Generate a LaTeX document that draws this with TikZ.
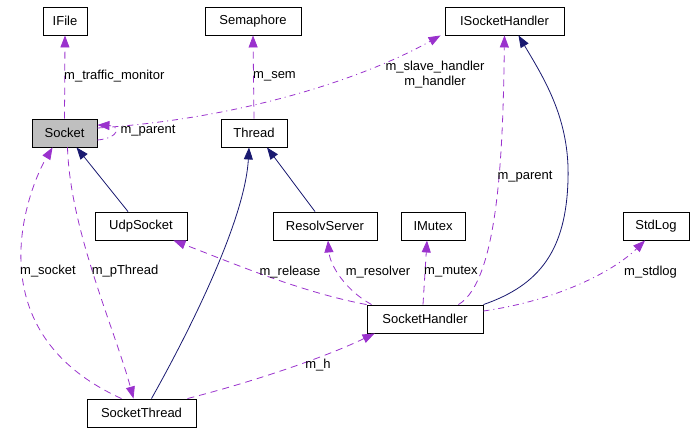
\documentclass[tikz,border=0pt]{standalone}
\usepackage{fontspec}
\setmainfont{Liberation Sans}
\usetikzlibrary{arrows.meta}
\definecolor{refpurple}{HTML}{9A32CD}
\definecolor{inhnavy}{HTML}{191970}
\definecolor{boxgray}{HTML}{BFBFBF}

\begin{document}
\begin{tikzpicture}[x=1pt,y=-1pt,
		cls/.style={draw, line width=0.9pt, minimum height=28pt, inner sep=0pt, font=\fontsize{13}{15}\selectfont},
		lbl/.style={inner sep=0pt, font=\fontsize{13}{15}\selectfont},
		uses/.style={refpurple, line width=0.8pt, dash pattern=on 7pt off 5pt, -{Triangle[length=12pt,width=9pt]}},
		usesdot/.style={uses, dash pattern=on 6pt off 4pt on 1pt off 4pt},
		inherits/.style={inhnavy, line width=0.8pt, -{Triangle[length=12pt,width=9pt]}}]
			\useasboundingbox (0,0) rectangle (695,432);
			
			\node[cls, minimum width=44pt] (IFile) at (65,21) {IFile};
			\node[cls, minimum width=96pt] (Semaphore) at (253,21) {Semaphore};
			\node[cls, minimum width=119pt] (ISocketHandler) at (504.5,21) {ISocketHandler};
			\node[cls, minimum width=65pt, fill=boxgray] (Socket) at (64.5,133) {Socket};
			\node[cls, minimum width=66pt] (Thread) at (254,133) {Thread};
			\node[cls, minimum width=92pt] (UdpSocket) at (141,226) {UdpSocket};
			\node[cls, minimum width=104pt] (ResolvServer) at (325,226) {ResolvServer};
			\node[cls, minimum width=64pt] (IMutex) at (433,226) {IMutex};
			\node[cls, minimum width=66pt] (StdLog) at (656,226) {StdLog};
			\node[cls, minimum width=116pt] (SocketHandler) at (425,319) {SocketHandler};
			\node[cls, minimum width=109pt] (SocketThread) at (141.5,413) {SocketThread};
			
			\draw[uses] (Socket.north) -- (IFile.south);
			\node[lbl, anchor=west] (lblMonitor) at (64,76) {m\_traffic\_monitor};
			\draw[uses] (Thread.north) -- (Semaphore.south);
			\node[lbl, anchor=west] (lblSem) at (253,76) {m\_sem};
			
			\draw[usesdot] ([yshift=5pt]Socket.east) .. controls (250,118) and (370,75) .. ([xshift=-4pt]ISocketHandler.south west);
			\node[lbl, align=center] (lblHandler) at (435,75) {m\_slave\_handler\\m\_handler};
			\draw[usesdot] ([yshift=-7pt]Socket.east) .. controls (120,138) and (120,126) .. ([yshift=8pt]Socket.east);
			\node[lbl] (lblSelf) at (148,131) {m\_parent};
			
			\draw[inherits] ([xshift=-13pt]UdpSocket.north) -- ([xshift=45pt]Socket.south west);
			\draw[uses] ([xshift=-20pt]SocketThread.north) .. controls (-30,330) and (30,185) .. ([xshift=21pt]Socket.south west);
			\node[lbl] (lblSocket) at (48,271) {m\_socket};
			\draw[uses] ([xshift=3pt]Socket.south) .. controls (70,230) and (115,330) .. ([xshift=-8pt]SocketThread.north);
			\node[lbl] (lblPThread) at (125,271) {m\_pThread};
			
			\draw[inherits] ([xshift=10pt]SocketThread.north) .. controls (190,330) and (245,220) .. ([xshift=-5pt]Thread.south);
			\draw[inherits] ([xshift=-10pt]ResolvServer.north) -- ([xshift=13pt]Thread.south);
			
			\draw[uses] (SocketHandler.north west) .. controls (300,292) and (230,262) .. ([xshift=-14pt]UdpSocket.south east);
			\node[lbl] (lblRelease) at (290,272) {m\_release};
			\draw[uses] ([xshift=5pt]SocketHandler.north west) .. controls (345,290) and (330,265) .. ([xshift=3pt]ResolvServer.south);
			\node[lbl] (lblResolver) at (378,272) {m\_resolver};
			\draw[uses] ([xshift=-2pt]SocketHandler.north) -- ([xshift=-6pt]IMutex.south);
			\node[lbl, anchor=west] (lblMutex) at (424,272) {m\_mutex};
			
			\draw[uses] ([xshift=-25pt]SocketHandler.north east) .. controls (500,280) and (503,140) .. (ISocketHandler.south);
			\node[lbl] (lblParent) at (525,177) {m\_parent};
			\draw[inherits] (SocketHandler.north east) .. controls (540,285) and (566,250) .. (568,180) .. controls (570,120) and (545,80) .. ([xshift=14pt]ISocketHandler.south);
			
			\draw[usesdot] ([yshift=8pt]SocketHandler.east) .. controls (560,300) and (615,270) .. ([xshift=-11pt]StdLog.south);
			\node[lbl, anchor=west] (lblStdlog) at (624,272) {m\_stdlog};
			\draw[uses] ([xshift=-9pt]SocketThread.north east) .. controls (260,380) and (330,355) .. ([xshift=8pt]SocketHandler.south west);
			\node[lbl] (lblH) at (318,365) {m\_h};
		\end{tikzpicture}
\end{document}
